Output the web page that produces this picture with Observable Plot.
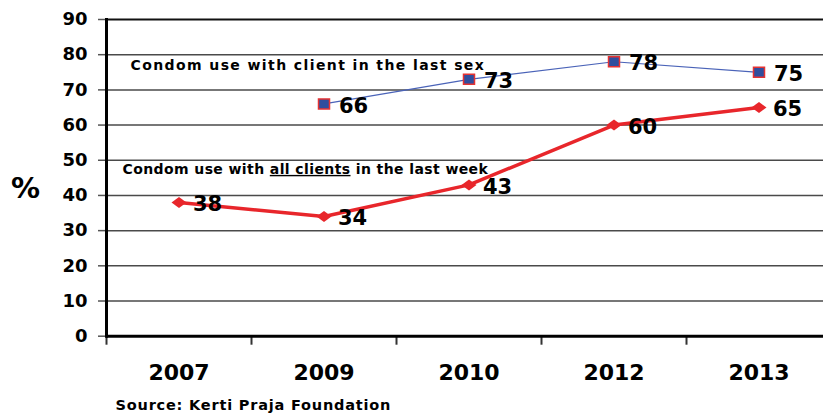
<!DOCTYPE html>
<html>
<head>
<meta charset="utf-8">
<script src="https://cdn.jsdelivr.net/npm/d3@7"></script>
<script src="https://cdn.jsdelivr.net/npm/@observablehq/plot@0.6"></script>
<style>
  html, body { margin: 0; padding: 0; background: #fff; }
  #chart svg { display: block; }
</style>
</head>
<body>
<div id="chart"></div>
<script>
// ---- data ----
const years = ["2007", "2009", "2010", "2012", "2013"];
const lastSexYears = ["2009", "2010", "2012", "2013"];
const lastSexValues = [66, 73, 78, 75];
const allClientsYears = ["2007", "2009", "2010", "2012", "2013"];
const allClientsValues = [38, 34, 43, 60, 65];
const yTicks = [0, 10, 20, 30, 40, 50, 60, 70, 80, 90];
const labelLastSex = "Condom use with client in the last sex";
const labelAllClients = "Condom use with all clients in the last week";
const labelAllClientsY = 47.4;
const labelLastSexY = 77;
const yAxisLabel = "%";
const yAxisLabelValue = 42;
const sourceText = "Source: Kerti Praja Foundation";

const lastSex = lastSexYears.map((y, i) => ({year: y, value: lastSexValues[i]}));
const allClients = allClientsYears.map((y, i) => ({year: y, value: allClientsValues[i]}));

// ---- custom symbols ----
const wideDiamond = {
  draw(ctx) {
    const w = 7.5, h = 5.5;
    ctx.moveTo(-w, 0); ctx.lineTo(0, -h); ctx.lineTo(w, 0); ctx.lineTo(0, h); ctx.closePath();
  }
};
const boxSym = {
  draw(ctx) {
    const w = 5.5, h = 5;
    ctx.moveTo(-w, -h); ctx.lineTo(w, -h); ctx.lineTo(w, h); ctx.lineTo(-w, h); ctx.closePath();
  }
};

const FONT = "DejaVu Sans, Verdana, sans-serif";
const W = 823, H = 414;
const left = 106, yTop = 19, yBottom = 335.7;
const bandW = (831 - left) / years.length;

const chart = Plot.plot({
  width: W,
  height: H,
  marginLeft: left,
  marginRight: 0,
  marginTop: yTop,
  marginBottom: H - yBottom,
  style: {fontFamily: FONT, fontWeight: "bold", color: "#000", background: "#fff"},
  x: {type: "band", domain: years, range: [left, 831], padding: 0},
  y: {domain: [0, 90], ticks: yTicks},
  marks: [
    // grid
    Plot.ruleY(yTicks.filter(d => d > 0 && d < 90), {stroke: "#4a4a4a", strokeWidth: 1.5}),
    Plot.ruleY([90], {stroke: "#111", strokeWidth: 2}),
    // y axis
    Plot.axisY({ticks: yTicks, tickSize: 8, tickPadding: 11, fontSize: 18, fontWeight: "bold", label: null, stroke: "#555", strokeWidth: 1.5}),
    // x axis tick marks at band boundaries
    Plot.axisX({tickSize: 9, text: null, dx: -bandW / 2, stroke: "#333", strokeWidth: 2, label: null}),
    Plot.axisX({tickSize: 0, tickPadding: 28, fontSize: 22, fontWeight: "bold", label: null}),
    // axis lines
    Plot.ruleY([0], {stroke: "#000", strokeWidth: 3}),
    Plot.frame({anchor: "left", stroke: "#000", strokeWidth: 3}),
    // y label
    Plot.text([yAxisLabel], {frameAnchor: "left", y: [yAxisLabelValue], dx: -81, textAnchor: "middle", fontSize: 29, fontWeight: "bold", text: d => d}),
    // annotations
    Plot.text([labelLastSex], {frameAnchor: "left", y: [labelLastSexY], dx: 24, textAnchor: "start", fontSize: 14, fontWeight: "bold", text: d => d, className: "ann-sex"}),
    Plot.text([labelAllClients], {frameAnchor: "left", y: [labelAllClientsY], dx: 16, textAnchor: "start", fontSize: 14, fontWeight: "bold", text: d => d, className: "ann-all"}),
    // series: last sex
    Plot.line(lastSex, {x: "year", y: "value", stroke: "#4a63b8", strokeWidth: 1.2}),
    Plot.dot(lastSex, {x: "year", y: "value", symbol: boxSym, r: 5, fill: "#2f4e9e", stroke: "#e53232", strokeWidth: 1.5}),
    Plot.text(lastSex, {x: "year", y: "value", text: d => String(d.value), dx: 15, dy: 2, textAnchor: "start", fontSize: 21, fontWeight: "bold", fill: "#000"}),
    // series: all clients
    Plot.line(allClients, {x: "year", y: "value", stroke: "#e8262b", strokeWidth: 3.5}),
    Plot.dot(allClients, {x: "year", y: "value", symbol: wideDiamond, r: 5, fill: "#e8262b", stroke: "none"}),
    Plot.text(allClients, {x: "year", y: "value", text: d => String(d.value), dx: 14, dy: 2, textAnchor: "start", fontSize: 21, fontWeight: "bold", fill: "#000"}),
    // source
    Plot.text([sourceText], {frameAnchor: "bottom-left", dx: 9, dy: 69, lineAnchor: "middle", textAnchor: "start", fontSize: 14.5, fontWeight: "bold", text: d => d, className: "src"})
  ]
});

// letter spacing tweaks and underline "all clients"
d3.select(chart).selectAll("g.ann-sex text").style("letter-spacing", "1.4px");
d3.select(chart).selectAll("g.ann-all text").style("letter-spacing", "0.4px");
d3.select(chart).selectAll("g.src text").style("letter-spacing", "0.8px");
d3.select(chart).selectAll("text").each(function () {
  const t = d3.select(this);
  if (t.text() === labelAllClients) {
    const parts = labelAllClients.split("all clients");
    t.text(null);
    t.append("tspan").text(parts[0]);
    t.append("tspan").attr("text-decoration", "underline").text("all clients");
    t.append("tspan").text(parts[1]);
  }
});

document.getElementById("chart").appendChild(chart);
</script>
</body>
</html>
